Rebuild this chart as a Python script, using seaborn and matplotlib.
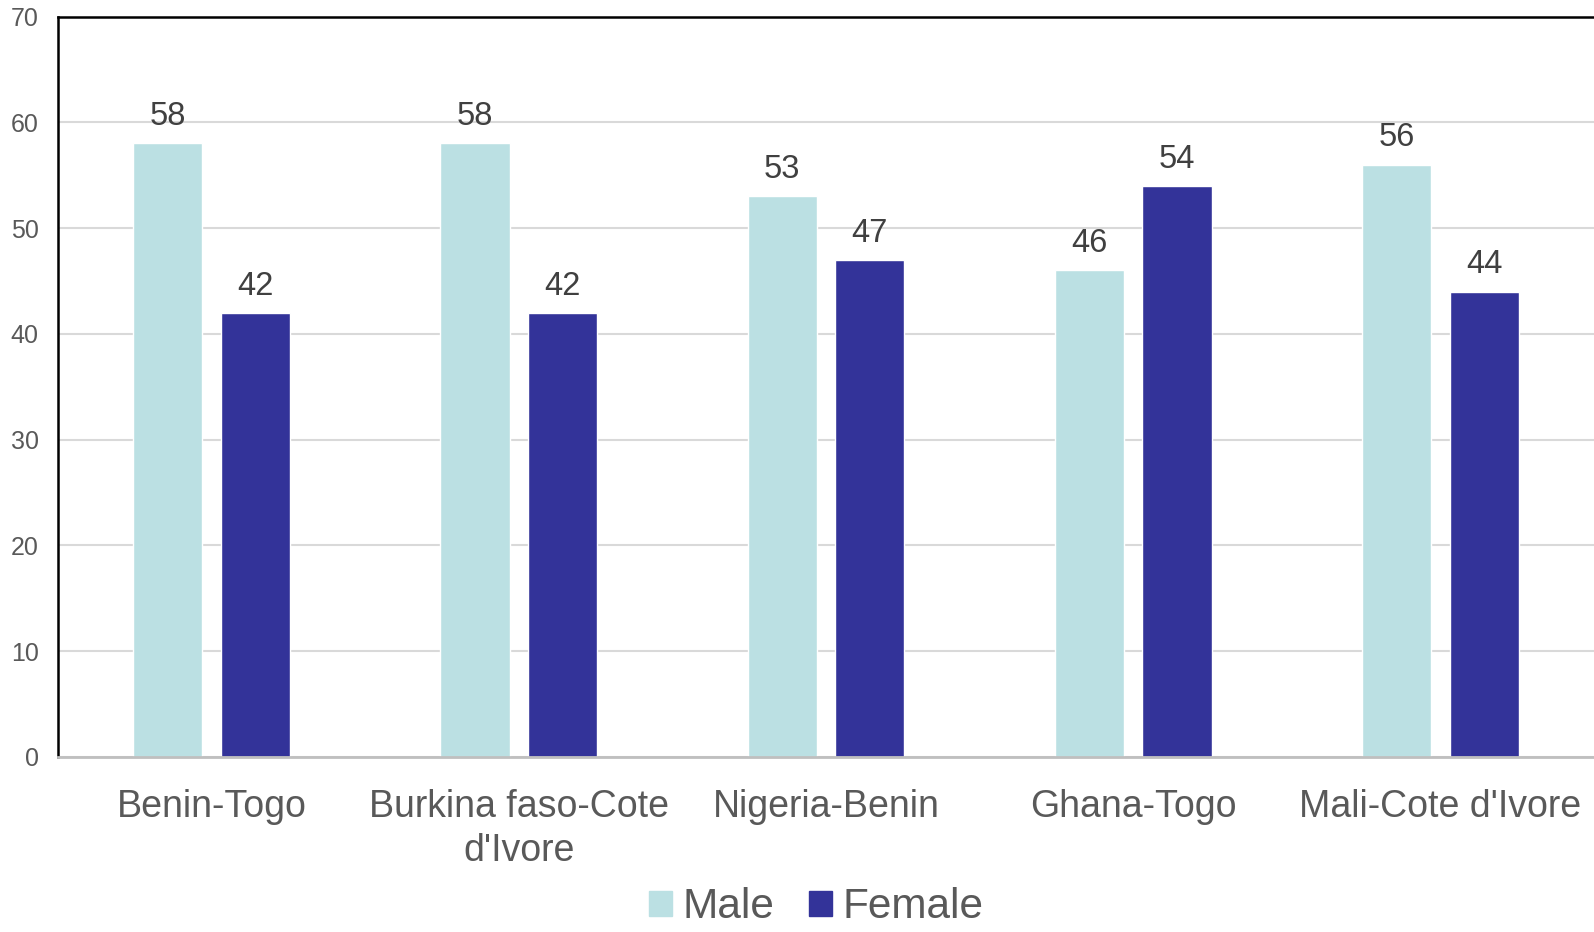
import matplotlib
matplotlib.use("Agg")
import matplotlib.pyplot as plt
import matplotlib.patches as mpatches
import seaborn as sns
import pandas as pd

# data
corridors = ['Benin-Togo', "Burkina faso-Cote\nd'Ivore", 'Nigeria-Benin',
             'Ghana-Togo', "Mali-Cote d'Ivore"]
male = [58, 58, 53, 46, 56]
female = [42, 42, 47, 54, 44]
sexes = ['Male', 'Female']
colores = ['#BBE0E3', '#333399']

df = pd.DataFrame({'Corridor': corridors * 2,
                   'Sex': ['Male'] * len(corridors) + ['Female'] * len(corridors),
                   'Share': male + female})

sns.set_style('white')
plt.rcParams['font.family'] = ['Liberation Sans', 'DejaVu Sans']

fig = plt.figure(figsize=(15.94, 9.32), dpi=100)
ax = fig.add_axes([58 / 1594, 1 - 757 / 932, 1 - 58 / 1594, (757 - 16.5) / 932])

sns.barplot(data=df, x='Corridor', y='Share', hue='Sex', hue_order=sexes,
            palette=colores, width=0.57, gap=0.21, saturation=1,
            order=corridors, ax=ax, legend=False)

ax.set_ylim(0, 70)
ax.set_yticks(range(0, 71, 10))
ax.set_xlim(-0.5, len(corridors) - 0.5)
ax.yaxis.grid(True, color='#D9D9D9', lw=1.5)
ax.set_axisbelow(True)
ax.set_xlabel('')
ax.set_ylabel('')

ax.tick_params(axis='y', length=0, pad=14, labelsize=18, labelcolor='#595959')
ax.tick_params(axis='x', length=0, pad=23, labelsize=27, labelcolor='#595959')
for t in ax.get_xticklabels():
    t.set_linespacing(1.3)

for s in ['top', 'left']:
    ax.spines[s].set_color('black')
    ax.spines[s].set_linewidth(1.8)
ax.spines['right'].set_visible(False)
ax.spines['bottom'].set_color('#BFBFBF')
ax.spines['bottom'].set_linewidth(2)

for cont in ax.containers:
    ax.bar_label(cont, padding=8, fontsize=23.5, color='#404040')

handles = [mpatches.Patch(color=c, label=s) for s, c in zip(sexes, colores)]
leg = fig.legend(handles=handles, loc='lower center', bbox_to_anchor=(0.512, -0.036),
                 ncol=2, frameon=False, fontsize=30.5, handlelength=0.55,
                 handleheight=0.55, handletextpad=0.25, columnspacing=0.8)
for t in leg.get_texts():
    t.set_color('#595959')

fig.savefig('out.png', dpi=100)
